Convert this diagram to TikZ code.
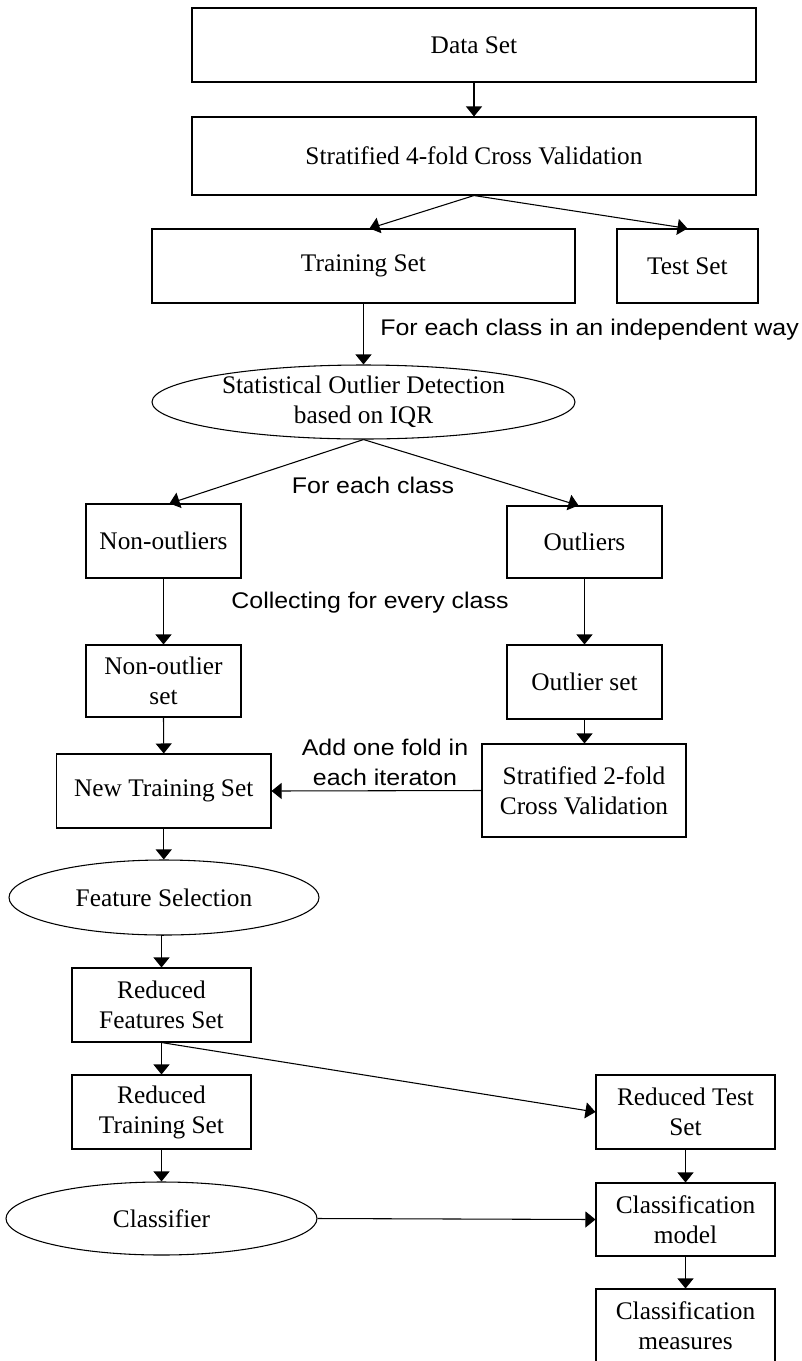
\documentclass[tikz,border=0pt]{standalone}
\usepackage{fontspec}
\setmainfont{Liberation Serif}
\setsansfont{Liberation Sans}[FakeStretch=1.1]
\usetikzlibrary{arrows.meta,shapes.geometric,calc}
\begin{document}
\begin{tikzpicture}[x=0.75pt,y=-0.75pt,
  box/.style={draw, line width=0.8pt, rectangle, inner sep=0pt, align=center,
    font=\fontsize{19}{22.5}\selectfont},
  oval/.style={draw, line width=0.8pt, ellipse, inner sep=0pt, align=center,
    font=\fontsize{19}{22.5}\selectfont},
  txt/.style={inner sep=0pt, align=center, font=\fontsize{19}{22.5}\selectfont},
  arr/.style={-{Triangle[length=7.5pt,width=12pt]}, line width=0.8pt},
  lab/.style={font=\sffamily\fontsize{17}{22.5}\selectfont, align=center, inner sep=0pt}]
\useasboundingbox (0,0) rectangle (802,1361);

\node[box, minimum width=423pt, minimum height=55.5pt] (ds) at (474,45) {Data Set};
\node[box, minimum width=423pt, minimum height=58.5pt] (cv) at (474,156) {Stratified 4-fold Cross Validation};
\node[box, minimum width=317.25pt, minimum height=55.5pt] (tr) at (363.5,266) {Training Set};
\node[box, minimum width=105.75pt, minimum height=55.5pt] (te) at (687.5,266) {Test Set};
\node[oval, minimum width=317.25pt, minimum height=55.5pt] (iqr) at (363.5,402) {};
\node[txt] (iqrt) at (363.5,402) {Statistical Outlier Detection\\based on IQR};
\node[box, minimum width=116.25pt, minimum height=55.5pt] (no) at (163.5,541) {Non-outliers};
\node[box, minimum width=116.25pt, minimum height=54pt] (ou) at (584.5,542) {Outliers};
\node[box, minimum width=116.25pt, minimum height=54pt] (nos) at (163.5,681) {Non-outlier\\set};
\node[box, minimum width=116.25pt, minimum height=55.5pt] (os) at (584.5,682) {Outlier set};
\node[box, minimum width=160.9pt, minimum height=55.5pt] (nts) at (163.75,791) {New Training Set};
\node[box, minimum width=153pt, minimum height=69.75pt] (s2) at (584,790.5) {Stratified 2-fold\\Cross Validation};
\node[oval, minimum width=232.5pt, minimum height=56.25pt] (fs) at (164,897.5) {Feature Selection};
\node[box, minimum width=134.25pt, minimum height=55.5pt] (rfs) at (161.5,1005) {Reduced\\Features Set};
\node[box, minimum width=134.25pt, minimum height=55.5pt] (rts) at (161.5,1112) {Reduced\\Training Set};
\node[box, minimum width=134.25pt, minimum height=55.5pt] (rtest) at (685.5,1112) {Reduced Test\\Set};
\node[oval, minimum width=233.25pt, minimum height=54.75pt] (cl) at (161.5,1218.5) {Classifier};
\node[box, minimum width=134.25pt, minimum height=54.75pt] (cm) at (685.5,1219.5) {Classification\\model};
\node[box, minimum width=134.25pt, minimum height=54.75pt] (cms) at (685.5,1325.5) {Classification\\measures};

\draw[arr] (ds.south) -- (cv.north);
\draw[arr] (cv.south) -- ([xshift=4.5pt]tr.north);
\draw[arr] (cv.south) -- (te.north);
\draw[arr] (tr.south) -- (iqr.north);
\draw[arr] (iqr.south) -- ([xshift=4.5pt]no.north);
\draw[arr] (iqr.south) -- ([xshift=-4.5pt]ou.north);
\draw[arr] (no.south) -- (nos.north);
\draw[arr] (ou.south) -- (os.north);
\draw[arr] (nos.south) -- (nts.north);
\draw[arr] (os.south) -- (os.south |- s2.north);
\draw[arr] (s2.west) -- (nts.east);
\draw[arr] (nts.south) -- (nts.south |- fs.north);
\draw[arr] (fs.south) -- (fs.south -| rfs.north) -- (rfs.north);
\draw[arr] (rfs.south) -- (rts.north);
\draw[arr] (rfs.south) -- (rtest.west);
\draw[arr] (rts.south) -- (cl.north);
\draw[arr] (cl.east) -- (cm.west);
\draw[arr] (rtest.south) -- (cm.north);
\draw[arr] (cm.south) -- (cms.north);

\node[lab, anchor=west] (l1) at (380,330) {For each class in an independent way};
\node[lab] (l2) at (373,485) {For each class};
\node[lab] (l3) at (370,603) {Collecting for every class};
\node[lab] (l4) at (385,762) {Add one fold in\\each iteraton};
\end{tikzpicture}
\end{document}
